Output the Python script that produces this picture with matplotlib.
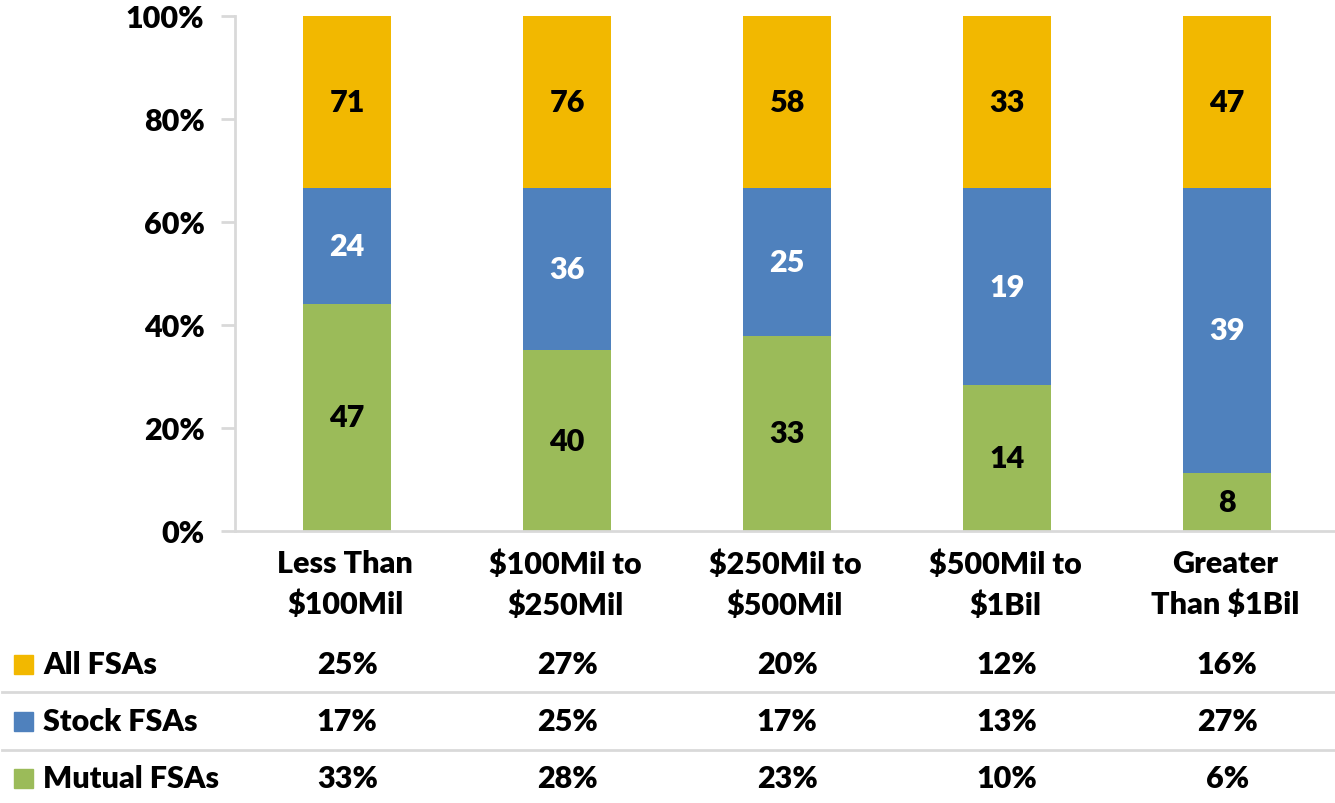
import numpy as np
import matplotlib
matplotlib.use("Agg")
import matplotlib.pyplot as plt
import matplotlib.transforms as mtransforms

plt.rcParams['font.family'] = ['Lato', 'DejaVu Sans']
plt.rcParams['font.weight'] = 'heavy'

categories = ["Less Than\n$100Mil", "$100Mil to\n$250Mil", "$250Mil to\n$500Mil",
              "$500Mil to\n$1Bil", "Greater\nThan $1Bil"]
all_n = [71, 76, 58, 33, 47]
stock_n = [24, 36, 25, 19, 39]
mutual_n = [47, 40, 33, 14, 8]
row_labels = ["All FSAs", "Stock FSAs", "Mutual FSAs"]
all_pct = [25, 27, 20, 12, 16]
stock_pct = [17, 25, 17, 13, 27]
mutual_pct = [33, 28, 23, 10, 6]

yellow = "#F2B800"
blue = "#4F81BD"
green = "#9BBB59"
grid_gray = "#D9D9D9"

x = np.arange(len(categories))
stock_a = np.array(stock_n, dtype=float)
mutual_a = np.array(mutual_n, dtype=float)
# bottom two thirds split by mutual/stock share, top third is "All"
green_h = mutual_a / (mutual_a + stock_a) * 200 / 3
blue_h = stock_a / (mutual_a + stock_a) * 200 / 3
yellow_h = np.full(len(x), 100 / 3)

fig = plt.figure(figsize=(13.35, 8.04), dpi=100)
ax = fig.add_axes([235 / 1335, 1 - 532 / 804, 1100 / 1335, 515 / 804])

w = 0.4
ax.bar(x + 0.01, green_h, w, color=green)
ax.bar(x + 0.01, blue_h, w, bottom=green_h, color=blue)
ax.bar(x + 0.01, yellow_h, w, bottom=green_h + blue_h, color=yellow)

fs = 22
wt = "heavy"
for i in range(len(x)):
    ax.text(x[i] + 0.01, green_h[i] / 2, str(mutual_n[i]), ha="center", va="center",
            fontsize=fs, fontweight=wt, color="black")
    ax.text(x[i] + 0.01, green_h[i] + blue_h[i] / 2, str(stock_n[i]), ha="center", va="center",
            fontsize=fs, fontweight=wt, color="white")
    ax.text(x[i] + 0.01, green_h[i] + blue_h[i] + yellow_h[i] / 2, str(all_n[i]), ha="center",
            va="center", fontsize=fs, fontweight=wt, color="black")

ax.set_xlim(-0.5, len(x) - 0.5)
ax.set_ylim(0, 100)
ax.set_yticks([0, 20, 40, 60, 80, 100])
ax.set_yticklabels(["0%", "20%", "40%", "60%", "80%", "100%"], fontsize=fs, fontweight=wt)
ax.tick_params(axis="y", length=10, width=2, color=grid_gray, pad=12)
ax.set_xticks(x)
ax.set_xticklabels(categories, fontsize=fs, fontweight=wt, linespacing=1.55)
ax.tick_params(axis="x", length=0, pad=13)
for s in ["top", "right"]:
    ax.spines[s].set_visible(False)
for s in ["left", "bottom"]:
    ax.spines[s].set_color(grid_gray)
    ax.spines[s].set_linewidth(2)

# table under the chart
trans = mtransforms.blended_transform_factory(ax.transData, fig.transFigure)
row_y = [1 - 665 / 804, 1 - 722 / 804, 1 - 779 / 804]
row_colors = [yellow, blue, green]
row_vals = [all_pct, stock_pct, mutual_pct]
for r in range(3):
    fig.patches.append(plt.Rectangle((14 / 1335, row_y[r] - 10 / 804), 19 / 1335, 19 / 804,
                                     transform=fig.transFigure, color=row_colors[r]))
    fig.text(43 / 1335, row_y[r], row_labels[r], ha="left", va="center",
             fontsize=fs, fontweight=wt)
    for i in range(len(x)):
        ax.text(x[i] + 0.01, row_y[r], f"{row_vals[r][i]}%", transform=trans, ha="center",
                va="center", fontsize=fs, fontweight=wt, clip_on=False)
for ly in [1 - 693 / 804, 1 - 751 / 804]:
    fig.add_artist(plt.Line2D([2 / 1335, 1], [ly, ly], color=grid_gray, lw=2,
                              transform=fig.transFigure))

fig.savefig("out.png", dpi=100)
